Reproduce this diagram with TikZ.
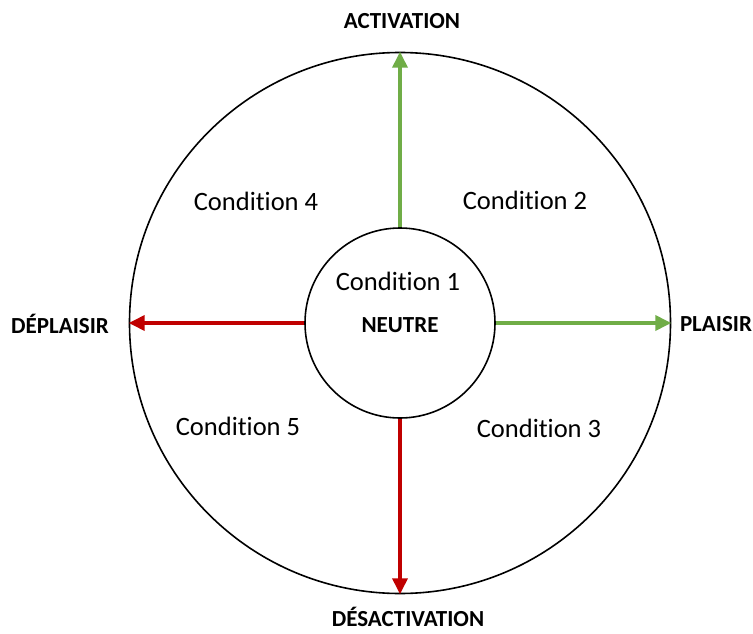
\documentclass[tikz,border=0pt]{standalone}
\usepackage{fontspec}
\setmainfont[Ligatures=CommonOff]{Carlito}
\usetikzlibrary{arrows.meta}
\definecolor{pgreen}{HTML}{70AD47}
\definecolor{pred}{HTML}{C00000}
\begin{document}
\begin{tikzpicture}[x=1pt,y=-1pt,
  ring/.style={draw=black,line width=1.6pt,circle,inner sep=0pt},
  cond/.style={font=\fontsize{26.5}{30}\selectfont,inner sep=0pt},
  axis/.style={font=\bfseries\fontsize{23}{27}\selectfont,inner sep=0pt},
  garrow/.style={draw=pgreen,line width=3.5pt,-{Triangle[width=15pt,length=16pt]}},
  rarrow/.style={draw=pred,line width=3.5pt,-{Triangle[width=15pt,length=16pt]}}]
\useasboundingbox (0,0) rectangle (753,634);
\fill[white] (0,0) rectangle (753,634);
\node[ring,minimum size=541pt] (outer) at (400,323) {};
\node[ring,minimum size=190pt] (inner) at (400,323) {};
\draw[garrow] (inner.north) -- (outer.north);
\draw[garrow] (inner.east) -- (outer.east);
\draw[rarrow] (inner.west) -- (outer.west);
\draw[rarrow] (inner.south) -- (outer.south);
\node[cond] (c1) at (398,281) {Condition 1};
\node[axis] (neutre) at (400,325) {NEUTRE};
\node[cond] (c2) at (525,200) {Condition 2};
\node[cond] (c3) at (539,428) {Condition 3};
\node[cond] (c4) at (256,201) {Condition 4};
\node[cond] (c5) at (238,426) {Condition 5};
\node[axis] (act) at (402,21) {ACTIVATION};
\node[axis] (desact) at (408,617) {DÉSACTIVATION};
\node[axis] (depl) at (60,324) {DÉPLAISIR};
\node[axis] (plai) at (716,324) {PLAISIR};
\end{tikzpicture}
\end{document}
